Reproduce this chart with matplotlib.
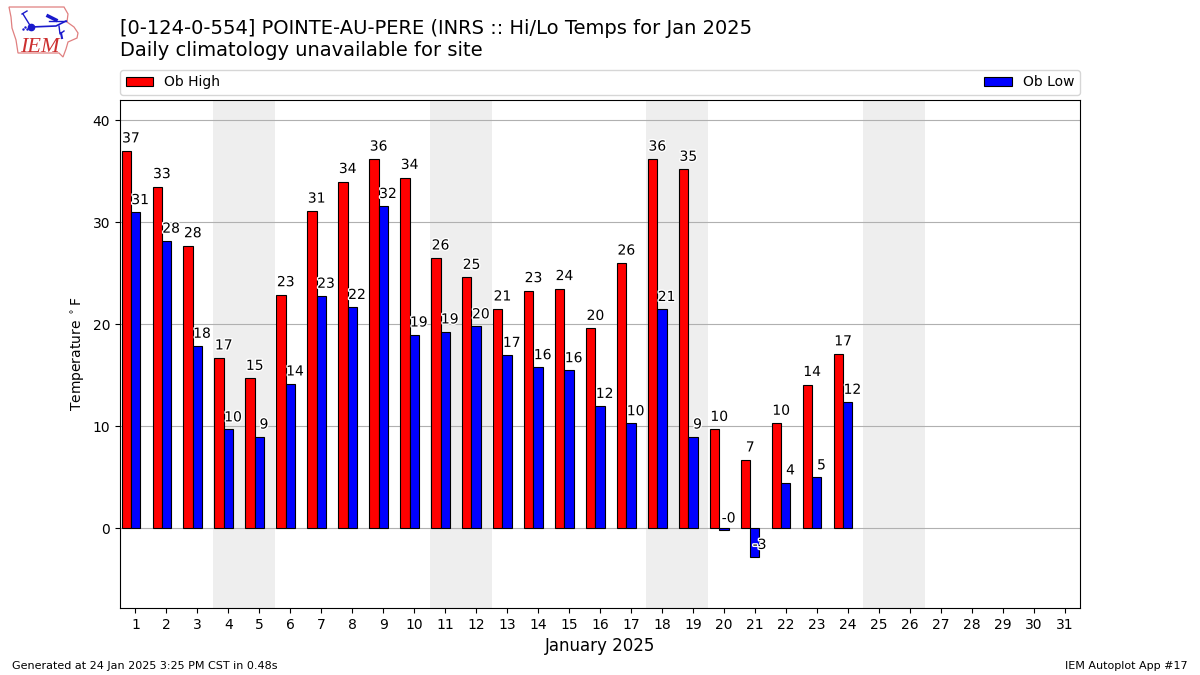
import matplotlib
matplotlib.use("Agg")
import matplotlib.pyplot as plt
import matplotlib.patheffects as pe
from matplotlib.patches import Polygon
import numpy as np

days = list(range(1, 25))
all_days = list(range(1, 32))
highs = [37.0, 33.5, 27.7, 16.7, 14.7, 22.9, 31.1, 34.0, 36.2, 34.4, 26.5, 24.6, 21.5, 23.3, 23.5, 19.6, 26.0, 36.2, 35.2, 9.7, 6.7, 10.3, 14.1, 17.1]
lows = [31.0, 28.2, 17.9, 9.7, 9.0, 14.2, 22.8, 21.7, 31.6, 19.0, 19.3, 19.8, 17.0, 15.8, 15.5, 12.0, 10.3, 21.5, 9.0, -0.2, -2.8, 4.5, 5.0, 12.4]
high_labels = [37, 33, 28, 17, 15, 23, 31, 34, 36, 34, 26, 25, 21, 23, 24, 20, 26, 36, 35, 10, 7, 10, 14, 17]
low_labels = ['31', '28', '18', '10', '9', '14', '23', '22', '32', '19', '19', '20', '17', '16', '16', '12', '10', '21', '9', '-0', '-3', '4', '5', '12']
weekend_starts = [4, 11, 18, 25]

fig = plt.figure(figsize=(12, 6.75), dpi=100)
ax = fig.add_axes([120/1200, 1-608/675, 960/1200, 508/675])
for d in weekend_starts:
    ax.axvspan(d-0.5, d+1.5, color='#eeeeee', zorder=1, lw=0)
ax.yaxis.grid(True, color='#b0b0b0', lw=0.8, zorder=2)
w = 0.3
x = np.array(days)
hb = ax.bar(x-w, highs, w, color='red', edgecolor='black', lw=0.8, label='Ob High', zorder=3)
lb = ax.bar(x, lows, w, color='blue', edgecolor='black', lw=0.8, label='Ob Low', zorder=3)
halo = [pe.withStroke(linewidth=2, foreground='white')]
for xx, v, s in zip(x, highs, high_labels):
    ax.text(xx-w/2, v+0.55, str(s), ha='center', va='bottom', fontsize=10, zorder=4, path_effects=halo)
for xx, v, s in zip(x, lows, low_labels):
    ax.text(xx+w/2, v+0.5, s, ha='center', va='bottom', fontsize=10, zorder=4, path_effects=halo)
ax.set_xlim(0.5, 31.5)
ax.set_ylim(-7.8, 42)
ax.set_xticks(all_days)
ax.set_yticks([0, 10, 20, 30, 40])
ax.tick_params(labelsize=10)
ax.set_xlabel('January 2025', fontsize=12)
ax.set_ylabel(r'Temperature $^\circ$F', fontsize=10)
fig.legend(handles=[hb, lb], loc='lower left', bbox_to_anchor=(120/1200, 1-95/675, 960/1200, 25/675),
           mode='expand', ncol=2, fontsize=10, borderaxespad=0, frameon=True)
fig.text(120/1200, 1-29/675, '[0-124-0-554] POINTE-AU-PERE (INRS :: Hi/Lo Temps for Jan 2025', fontsize=14, va='center')
fig.text(120/1200, 1-51/675, 'Daily climatology unavailable for site', fontsize=14, va='center')
fig.text(12/1200, 1-666/675, 'Generated at 24 Jan 2025 3:25 PM CST in 0.48s', fontsize=8, va='center')
fig.text(1188/1200, 1-666/675, 'IEM Autoplot App #17', fontsize=8, va='center', ha='right')
# logo, in figure pixels
lax = fig.add_axes([0, 1-60/675, 90/1200, 60/675])
lax.set_xlim(0, 90); lax.set_ylim(60, 0); lax.axis('off')
lax.add_patch(Polygon([(9,7),(64,7),(68,14),(67,22),(74,27),(78,33),(77,38),(68,42),(66,49),(63,57),(59,53),(18,53),(16,40),(12,28),(11,17)],
                      closed=True, fill=False, ec='#e08080', lw=0.9))
blue = '#1a1acc'
lax.plot([31,56,66],[27,26,21], color=blue, lw=1.2)
lax.plot([66,49],[21,21], color=blue, lw=1.0)
lax.plot([31],[27], 'o', color=blue, ms=4.5)
lax.plot([31,23],[27,14], color=blue, lw=1.0)
lax.plot([22,27],[14,11], color=blue, lw=1.0)
lax.plot([48,56],[16,20], color=blue, lw=2.5)
lax.plot([59,60,64],[26,34,31], color=blue, lw=1.0)
lax.plot([61,62],[33,38], color=blue, lw=1.5)
lax.plot([23,25,27],[29,27,29], '.', color=blue, ms=1.5)
lax.text(20, 52, 'IEM', color='#cc3030', fontsize=16, family='Liberation Serif', style='italic')
fig.savefig('out.png', dpi=100)
